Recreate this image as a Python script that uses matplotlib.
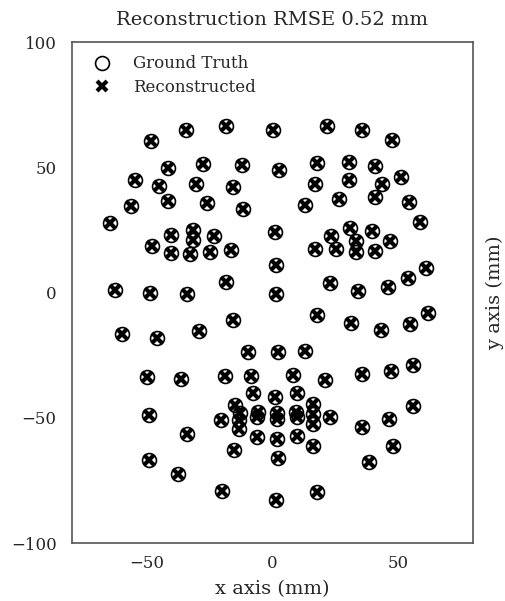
import matplotlib
matplotlib.use("Agg")
import matplotlib.pyplot as plt

# ground truth electrode positions (mm)
gt_x = [-48.5, -34.5, -18.6, 0.3, 21.9, 35.9, 47.7,
        -41.7, -27.7, -12.3, 2.7, 17.9, 30.7, 41.0,
        -55.0, -45.2, -30.4, -15.6, 17.0, 30.7, 43.5, 51.3,
        -56.4, -41.6, -26.3, -11.6, 13.0, 26.6, 40.8, 54.3,
        -64.8, 59.0,
        -47.9, -40.5, -31.9, -31.9, -23.2, -40.6, -32.8, -24.8, -16.7, 1.0, 1.3,
        17.0, 23.4, 25.2, 31.0, 33.3, 33.3, 39.8, 40.8, 46.7,
        -63.0, -48.7, -34.3, -18.7, 1.4, 22.8, 34.1, 45.9, 54.2, 61.2,
        -60.0, -46.1, -29.2, -15.9, 17.7, 31.2, 43.2, 54.8, 61.9,
        -9.9, 2.1, 12.9, -49.9, -36.4, -18.9, -8.6, 8.2, 21.0, 35.9, 47.3, 56.1,
        -7.7, 1.1, 9.7, -15.0, 16.3, -20.7, -13.0, -13.3, -5.7, -6.0, 1.9, 1.9,
        9.4, 9.6, 16.1, 16.3, 23.0, -13.5, -6.3, 1.9, 9.7, 16.3, -15.5, 2.2,
        -49.3, -34.3, -49.3, -37.9, -20.0, 1.2, 17.7, 38.6, 47.9, 35.7, 46.3, 55.9]
gt_y = [60.5, 64.7, 66.6, 64.8, 66.3, 64.7, 61.0,
        49.6, 51.3, 51.0, 48.8, 51.9, 52.1, 50.7,
        45.0, 42.6, 43.4, 42.0, 43.2, 45.0, 43.5, 46.3,
        34.4, 36.4, 35.6, 33.2, 35.0, 37.2, 38.3, 36.0,
        27.7, 28.1,
        18.6, 23.0, 24.8, 20.8, 22.4, 15.9, 15.2, 16.3, 16.8, 24.3, 10.8,
        17.3, 22.7, 17.3, 25.6, 20.7, 16.3, 24.4, 16.6, 20.4,
        1.0, -0.2, -0.6, 4.3, -0.4, 3.8, 0.8, 2.4, 5.8, 9.8,
        -16.6, -18.3, -15.4, -11.0, -9.0, -12.0, -15.0, -12.4, -8.1,
        -23.7, -23.7, -23.3, -33.6, -34.4, -33.4, -33.2, -33.0, -35.0, -32.6, -31.2, -29.0,
        -40.3, -41.7, -40.1, -44.9, -44.6, -51.0, -48.1, -51.0, -47.7, -49.5, -48.1, -50.3,
        -47.7, -49.5, -48.3, -52.3, -49.7, -54.6, -57.7, -58.3, -57.4, -61.4, -62.9, -66.0,
        -49.0, -56.5, -66.8, -72.3, -79.4, -83.0, -79.7, -67.7, -61.3, -53.7, -50.3, -45.3]

# reconstruction lands on the ground truth within ~0.5 mm (below pixel level)
rec_x = list(gt_x)
rec_y = list(gt_y)

rmse = 0.52

plt.rcParams['font.family'] = ['DejaVu Serif']

fig = plt.figure(figsize=(5.05, 6.01), dpi=100)
ax = fig.add_axes([0.1426, 0.0965, 0.794, 0.8335])

ax.plot(gt_x, gt_y, 'o', ms=10, mfc='none', mec='black', mew=1.2,
        label='Ground Truth')
ax.plot(rec_x, rec_y, 'x', ms=7, mec='black', mew=3,
        label='Reconstructed', linestyle='none')

ax.set_xlim(-80, 80)
ax.set_ylim(-100, 100)
ax.set_xticks([-50, 0, 50])
ax.set_yticks([-100, -50, 0, 50, 100])
ax.tick_params(length=0, labelsize=12, colors='#262626')
ax.tick_params(axis='x', pad=8.5)
ax.tick_params(axis='y', pad=11)
for s in ax.spines.values():
    s.set_color('#555555')
    s.set_linewidth(1.2)

ax.set_title('Reconstruction RMSE %.2f mm' % rmse, fontsize=14,
             color='#262626', pad=12)
ax.set_xlabel('x axis (mm)', fontsize=14, color='#262626', labelpad=6)
ax.set_ylabel('y axis (mm)', fontsize=14, color='#262626', labelpad=9)
ax.yaxis.set_label_position('right')

ax.legend(loc='upper left', frameon=False, fontsize=12,
          handletextpad=0.85, borderaxespad=0.4, labelspacing=0.4,
          labelcolor='#262626')

fig.savefig('out.png', dpi=100)
